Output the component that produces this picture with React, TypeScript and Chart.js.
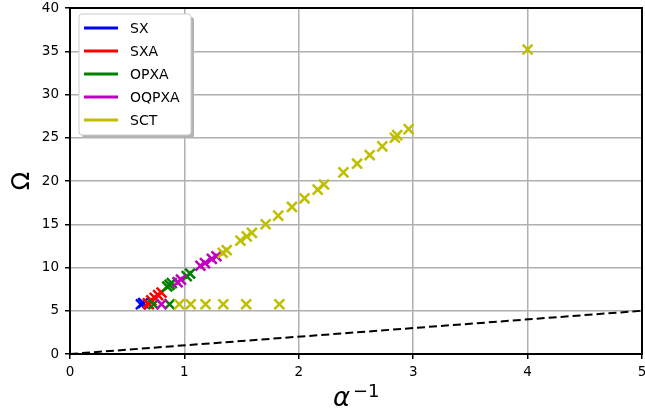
import React, { useEffect, useRef } from "react";
import { Chart, registerables } from "chart.js";

Chart.register(...registerables);

const seriesLabels = ["SX", "SXA", "OPXA", "OQPXA", "SCT"];
const seriesColors = ["#0000ff", "#ff0000", "#008000", "#bf00bf", "#bfbf00"];

const sxX = [0.62, 0.64];
const sxY = [5.75, 5.9];

const sxaX = [0.69, 0.68, 0.71, 0.74, 0.77, 0.8];
const sxaY = [5.75, 5.85, 6.2, 6.5, 6.8, 7.1];

const opxaX = [0.73, 0.87, 0.85, 0.87, 0.89, 1.02, 1.05];
const opxaY = [5.75, 5.75, 7.8, 8.0, 8.2, 9.0, 9.3];

const oqpxaX = [0.8, 0.94, 0.97, 1.14, 1.18, 1.24, 1.28];
const oqpxaY = [5.75, 8.3, 8.6, 10.2, 10.5, 11.0, 11.3];

const sctX = [0.955, 1.055, 1.185, 1.34, 1.54, 1.83, 1.335, 1.37, 1.49, 1.545, 1.59, 1.71, 1.82, 1.94, 2.05, 2.165, 2.22, 2.39, 2.51, 2.62, 2.73, 2.84, 2.86, 2.96, 4.0];
const sctY = [5.75, 5.75, 5.75, 5.75, 5.75, 5.75, 11.7, 12.0, 13.1, 13.6, 14.0, 15.0, 16.0, 17.0, 18.0, 19.0, 19.6, 21.0, 22.0, 23.0, 24.0, 25.0, 25.3, 26.0, 35.2];

const refLineX = [0, 5];
const refLineY = [0, 5];

const xTicks = [0, 1, 2, 3, 4, 5];
const yTicks = [0, 5, 10, 15, 20, 25, 30, 35, 40];

const allX = [sxX, sxaX, opxaX, oqpxaX, sctX];
const allY = [sxY, sxaY, opxaY, oqpxaY, sctY];

const FONT = "'DejaVu Sans', sans-serif";

const decorPlugin = {
  id: "decor",
  afterDraw(chart: any) {
    const ctx = chart.ctx as CanvasRenderingContext2D;
    const a = chart.chartArea;
    ctx.save();
    // frame
    ctx.strokeStyle = "#000";
    ctx.lineWidth = 2;
    ctx.strokeRect(a.left, a.top, a.right - a.left, a.bottom - a.top);

    // x title: alpha^-1
    ctx.fillStyle = "#000";
    ctx.textBaseline = "alphabetic";
    ctx.textAlign = "left";
    ctx.font = `italic 26px ${FONT}`;
    ctx.fillText("α", 333, 406);
    ctx.font = `18px ${FONT}`;
    ctx.fillText("−1", 353, 397);

    // y title: Omega rotated
    ctx.save();
    ctx.translate(23, 181);
    ctx.rotate(-Math.PI / 2);
    ctx.font = `24px ${FONT}`;
    ctx.textAlign = "center";
    ctx.textBaseline = "middle";
    ctx.fillText("Ω", 0, 0);
    ctx.restore();

    // legend
    const bx = 79, by = 14, bw = 112, bh = 121;
    const rr = (x: number, y: number, w: number, h: number, r: number) => {
      ctx.beginPath();
      ctx.moveTo(x + r, y);
      ctx.lineTo(x + w - r, y);
      ctx.quadraticCurveTo(x + w, y, x + w, y + r);
      ctx.lineTo(x + w, y + h - r);
      ctx.quadraticCurveTo(x + w, y + h, x + w - r, y + h);
      ctx.lineTo(x + r, y + h);
      ctx.quadraticCurveTo(x, y + h, x, y + h - r);
      ctx.lineTo(x, y + r);
      ctx.quadraticCurveTo(x, y, x + r, y);
      ctx.closePath();
    };
    rr(bx + 3, by + 3, bw, bh, 3);
    ctx.fillStyle = "#b3b3b3";
    ctx.fill();
    rr(bx, by, bw, bh, 3);
    ctx.fillStyle = "#ffffff";
    ctx.fill();
    ctx.strokeStyle = "#cccccc";
    ctx.lineWidth = 1;
    ctx.stroke();

    ctx.font = `14px ${FONT}`;
    ctx.textAlign = "left";
    ctx.textBaseline = "middle";
    seriesLabels.forEach((lab, i) => {
      const y = 28 + i * 23;
      ctx.strokeStyle = seriesColors[i];
      ctx.lineWidth = 3;
      ctx.beginPath();
      ctx.moveTo(84, y);
      ctx.lineTo(118, y);
      ctx.stroke();
      ctx.fillStyle = "#000";
      ctx.fillText(lab, 130, y + 1);
    });
    ctx.restore();
  },
};

export default function App() {
  const ref = useRef<HTMLCanvasElement | null>(null);
  useEffect(() => {
    if (!ref.current) return;
    const datasets: any[] = seriesLabels.map((lab, i) => ({
      label: lab,
      data: allX[i].map((x, j) => ({ x, y: allY[i][j] })),
      showLine: false,
      pointStyle: "crossRot",
      pointRadius: 7,
      pointBorderWidth: 2.5,
      borderColor: seriesColors[i],
      backgroundColor: seriesColors[i],
      order: 10 - i,
    }));
    datasets.push({
      label: "ref",
      data: refLineX.map((x, j) => ({ x, y: refLineY[j] })),
      showLine: true,
      borderColor: "#000",
      borderWidth: 2,
      borderDash: [8, 4],
      pointRadius: 0,
      order: 0,
    });

    const scaleCommon = {
      type: "linear" as const,
      grid: { color: "#b0b0b0", lineWidth: 1.5, tickColor: "#000", tickLength: 5 },
      border: { color: "#000", width: 2 },
    };

    const chart = new Chart(ref.current, {
      type: "scatter",
      data: { datasets },
      options: {
        animation: false,
        responsive: false,
        layout: { autoPadding: false, padding: { top: 8, right: 3, left: 0, bottom: 0 } },
        plugins: { legend: { display: false }, tooltip: { enabled: false } },
        scales: {
          x: {
            ...scaleCommon,
            min: 0,
            max: 5,
            afterBuildTicks: (s: any) => {
              s.ticks = xTicks.map((v) => ({ value: v }));
            },
            ticks: { font: { family: FONT, size: 13.5 }, color: "#000", padding: 5 },
            afterFit: (s: any) => {
              s.height = 62;
              s.paddingLeft = 0;
              s.paddingRight = 0;
            },
          },
          y: {
            ...scaleCommon,
            min: 0,
            max: 40,
            afterBuildTicks: (s: any) => {
              s.ticks = yTicks.map((v) => ({ value: v }));
            },
            ticks: { font: { family: FONT, size: 13.5 }, color: "#000", padding: 6 },
            afterFit: (s: any) => {
              s.width = 70;
              s.paddingTop = 0;
              s.paddingBottom = 0;
            },
          },
        },
      },
      plugins: [decorPlugin],
    });
    return () => chart.destroy();
  }, []);

  return (
    <div style={{ position: "fixed", left: 0, top: 0, width: 645, height: 416, background: "#fff" }}>
      <canvas ref={ref} width={645} height={416} />
    </div>
  );
}
